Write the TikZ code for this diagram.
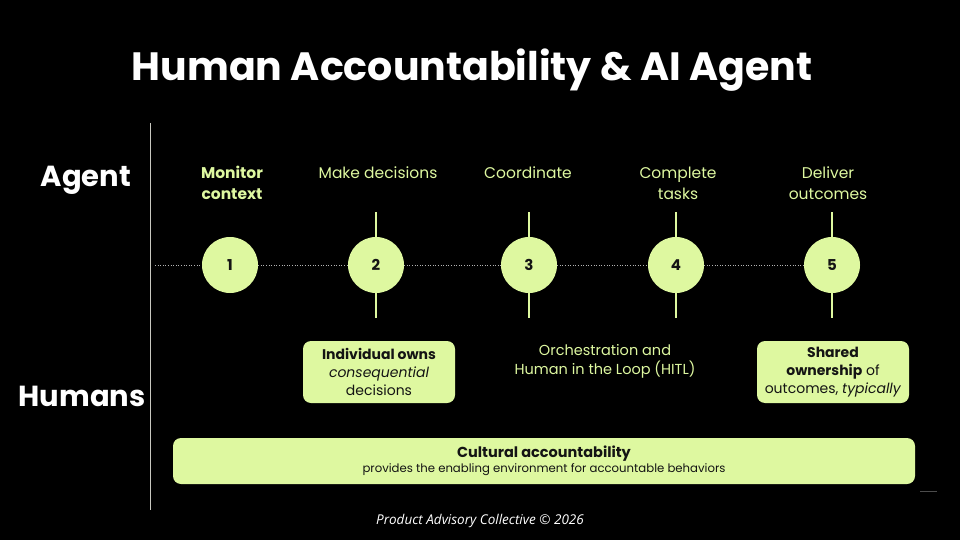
\documentclass[tikz,border=0pt]{standalone}
\usepackage{fontspec}
\setmainfont{Poppins}
\newfontfamily\footfont{Open Sans}
\usepackage{tikz}
\usetikzlibrary{positioning}
\definecolor{lime}{HTML}{DEF8A0}
\definecolor{ink}{HTML}{141414}
\definecolor{axisgray}{HTML}{C8C8C0}
\tikzstyle{rowlabel} = [text=white, font=\bfseries\fontsize{29}{32}\selectfont]
\tikzstyle{stage} = [circle, fill=lime, minimum size=56pt, inner sep=0pt, text=ink, font=\bfseries\fontsize{15}{18}\selectfont]
\tikzstyle{stalk} = [lime, line width=2pt]
\tikzstyle{guide} = [white!70!black, dotted, line width=0.6pt]
\tikzstyle{task} = [anchor=north, align=center, text=lime, font=\fontsize{15.5}{21}\selectfont]
\tikzstyle{ownbox} = [fill=lime, rounded corners=8pt, text=ink, align=center, font=\fontsize{14}{18}\selectfont]

\begin{document}
\begin{tikzpicture}[x=1pt,y=-1pt]
	\fill[black] (0,0) rectangle (960,540);
	\useasboundingbox (0,0) rectangle (960,540);
	\node[text=white, font=\bfseries\fontsize{39.5}{44}\selectfont] (title) at (472,70) {Human Accountability \& AI Agent};
	\node[rowlabel] (agent) at (86,180) {Agent};
	\node[rowlabel] (humans) at (82,396) {Humans};
	% axis and timeline
	\coordinate (axtop) at (150,123);
	\coordinate (axbot) at (150,510);
	\draw[axisgray, line width=1pt] (axtop) -- (axbot);
	\node[stage] (s1) at (230,265) {1};
	\node[stage] (s2) at (376,265) {2};
	\node[stage] (s3) at (529,265) {3};
	\node[stage] (s4) at (676,265) {4};
	\node[stage] (s5) at (832,265) {5};
	\coordinate (dstart) at (155,265);
	\draw[guide] (dstart) -- (s1) -- (s2) -- (s3) -- (s4) -- (s5);
	\foreach \i in {2,...,5} {
		\coordinate[above=25pt of s\i] (up\i);
		\coordinate[below=25pt of s\i] (dn\i);
		\draw[stalk] (s\i) -- (up\i);
		\draw[stalk] (s\i) -- (dn\i);
	}
	% agent tasks
	\node[task] (t1) at (232,163) {\bfseries Monitor\\\bfseries context};
	\node[task] (t2) at (378,163) {Make decisions};
	\node[task] (t3) at (528,163) {Coordinate};
	\node[task] (t4) at (678,163) {Complete\\tasks};
	\node[task] (t5) at (828,163) {Deliver\\outcomes};
	% human side
	\node[ownbox, minimum width=152pt, minimum height=62pt] (own) at (379,372) {\textbf{Individual owns}\\\textit{consequential}\\decisions};
	\node[align=center, text=lime, font=\fontsize{14.5}{19}\selectfont] (orch) at (605,361) {Orchestration and\\Human in the Loop (HITL)};
	\node[ownbox, minimum width=152pt, minimum height=62pt] (shared) at (833,372) {\textbf{Shared}\\\textbf{ownership} of\\outcomes, \textit{typically}};
	\node[ownbox, minimum width=742pt, minimum height=46pt] (culture) at (544,461) {{\fontsize{14.5}{17}\selectfont\textbf{Cultural accountability}}\\[-3pt]{\fontsize{11.7}{14}\selectfont provides the enabling environment for accountable behaviors}};
	\coordinate (m1) at (920,491);
	\coordinate (m2) at (937,491);
	\draw[white!30!black, line width=1pt] (m1) -- (m2);
	\node[text=white, font=\footfont\itshape\fontsize{13.5}{16}\selectfont] (credit) at (480,521) {Product Advisory Collective © 2026};
\end{tikzpicture}
\end{document}
